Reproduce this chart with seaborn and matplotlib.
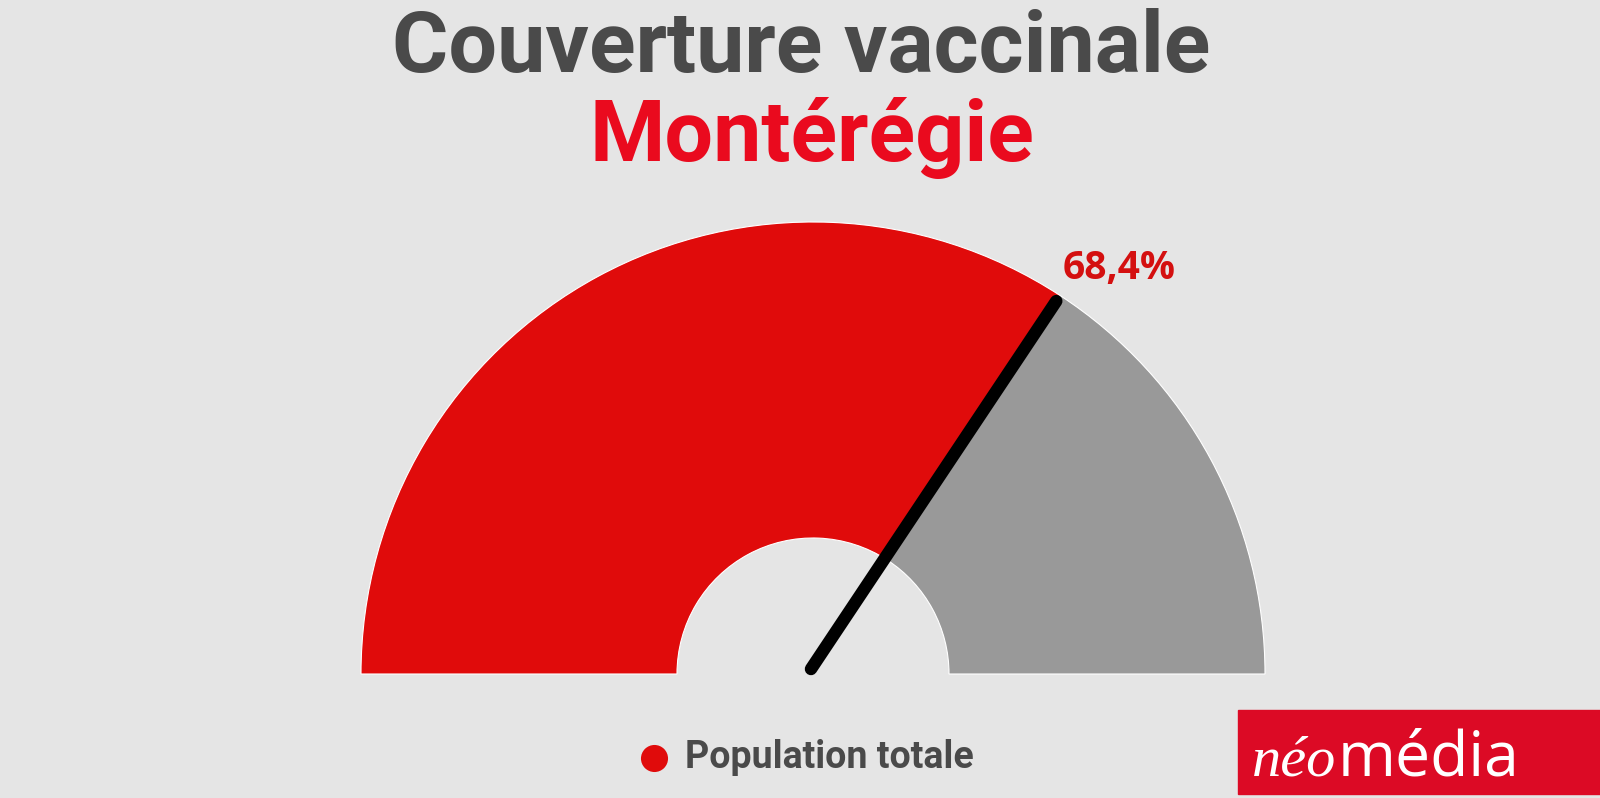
import matplotlib
import matplotlib.pyplot as plt
import numpy as np
import seaborn as sns
from matplotlib.patches import Rectangle

matplotlib.use("Agg")

# data
title_line1 = "Couverture vaccinale"
title_line2 = "Montérégie"
series_name = "Population totale"
coverage_pct = 68.4
labels = ["Vaccinée", "Non vaccinée"]
values = [coverage_pct, 100 - coverage_pct]
value_label = "68,4%"

BG = "#e5e5e5"
RED = "#e00b0b"
GREY = "#999999"
DARK = "#4a4a4a"

sns.set_theme(style="white", rc={"figure.facecolor": BG, "axes.facecolor": BG})
plt.rcParams["font.family"] = ["Roboto", "DejaVu Sans"]

W, H = 1600, 798
fig = plt.figure(figsize=(16, 7.98), dpi=100)
ax = fig.add_axes([0, 0, 1, 1])
ax.set_xlim(0, W)
ax.set_ylim(0, H)

# gauge geometry in pixel coords (y up)
cx, cy = 813, 124
r_out, r_in = 452, 136

# half donut: the hidden third slice takes the lower half
ax.pie(
    values + [sum(values)],
    colors=[RED, GREY, (0, 0, 0, 0)],
    startangle=180,
    counterclock=False,
    center=(cx, cy),
    radius=r_out,
    wedgeprops={"width": r_out - r_in, "edgecolor": "white", "linewidth": 0.8},
)
ax.patches[-1].set_edgecolor((0, 0, 0, 0))
ax.set_xlim(0, W)
ax.set_ylim(0, H)
ax.set_aspect("equal")
ax.axis("off")

# needle
theta = np.deg2rad(180 - 180 * coverage_pct / 100)
r_needle = r_out * 0.985
tip_x, tip_y = cx + r_needle * np.cos(theta), cy + r_needle * np.sin(theta)
ax.plot([cx - 2, tip_x], [cy + 5, tip_y], color="black", lw=9,
        solid_capstyle="round", zorder=5)
ax.text(tip_x + 63, tip_y + 33, value_label, color="#d41010", fontsize=28,
        fontweight="bold", ha="center", va="center", family=["Open Sans", "DejaVu Sans"])

# titles
ax.text(W / 2 + 1, H - 72, title_line1, color=DARK, fontsize=62, fontweight="bold",
        ha="center", va="baseline")
ax.text(W / 2 + 12, H - 161, title_line2, color="#ea0a1e", fontsize=62, fontweight="bold",
        ha="center", va="baseline")

# legend
ax.scatter([654], [H - 758], s=380, color=RED, zorder=5, linewidths=0)
ax.text(685, H - 758, series_name, color=DARK, fontsize=27, fontweight="bold",
        ha="left", va="center")

# logo
ax.add_patch(Rectangle((1238, H - 794), 362, 84, color="#dc0a25", zorder=4))
neo = ax.text(1252, H - 775, "néo", color="white", fontsize=42, style="italic",
              family=["Liberation Serif", "DejaVu Serif"], ha="left", va="baseline", zorder=6)
fig.canvas.draw()
neo_end = neo.get_window_extent().x1
ax.text(neo_end + 1, H - 775, "média", color="white", fontsize=45,
        family=["Open Sans", "DejaVu Sans"], ha="left", va="baseline", zorder=6)

fig.savefig("out.png", dpi=100, facecolor=BG)
